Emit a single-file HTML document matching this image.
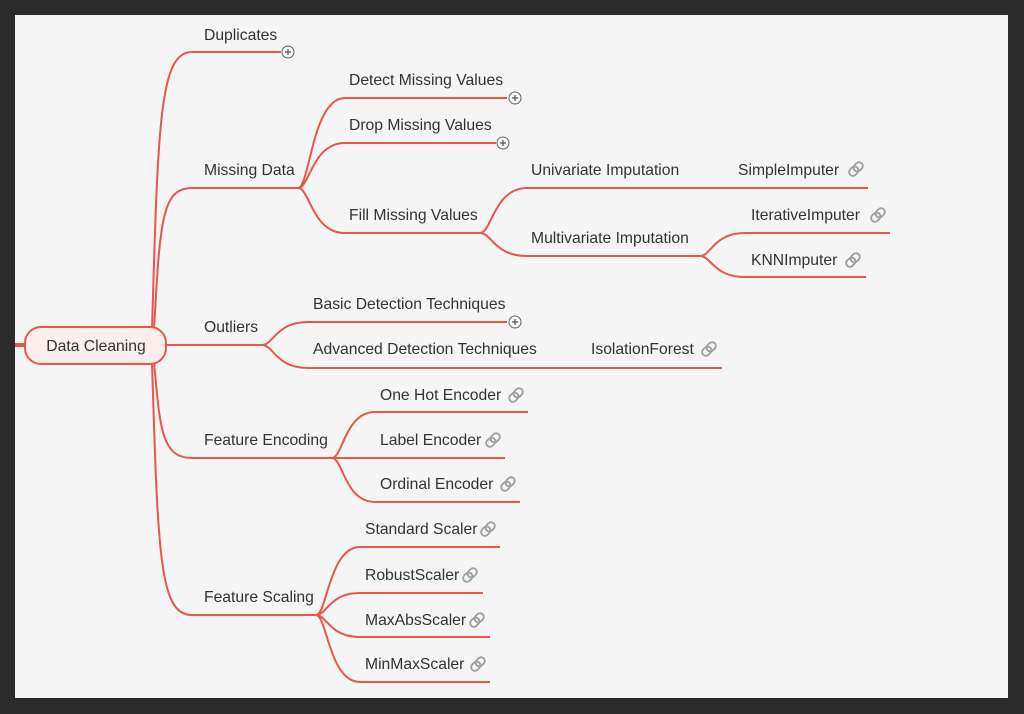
<!DOCTYPE html>
<html><head><meta charset="utf-8"><style>
html,body{margin:0;padding:0;background:#2b2b2b;width:1024px;height:714px;overflow:hidden}
svg{display:block}
text{font-family:"Liberation Sans",sans-serif;font-size:15.7px;fill:#333}
</style></head><body>
<svg id="s" width="1024" height="714" viewBox="0 0 1024 714" xmlns="http://www.w3.org/2000/svg">
<rect x="15" y="15" width="993" height="683" fill="#f5f5f5"/>
<g id="lines" fill="none" stroke="#e8574a" stroke-width="2"></g>
<line x1="15" y1="345" x2="26" y2="345" stroke="#e8574a" stroke-width="4"/>
<rect x="25" y="327" width="141" height="37" rx="16" fill="#fdeeee" stroke="#e8574a" stroke-width="2"/>
<text x="96" y="351" text-anchor="middle">Data Cleaning</text>
<g id="txt"></g>
<g id="icons"></g>
</svg>
<script>
var L=document.getElementById('lines'),T=document.getElementById('txt'),I=document.getElementById('icons');
var NS='http://www.w3.org/2000/svg';
function p(d){var e=document.createElementNS(NS,'path');e.setAttribute('d',d);L.appendChild(e);}
function t(x,y,s){var e=document.createElementNS(NS,'text');e.setAttribute('x',x);e.setAttribute('y',y);e.textContent=s;T.appendChild(e);}
function br(px,py,cx,cy,ex){var d=cx-px;p('M'+px+' '+py+' C'+(px+0.25*d)+' '+py+' '+(px+0.3*d)+' '+cy+' '+cx+' '+cy+' L'+ex+' '+cy);}
function plus(x,y){I.innerHTML+='<circle cx="'+x+'" cy="'+y+'" r="6" fill="#f5f5f5" stroke="#666" stroke-width="1"/><path d="M'+(x-3)+' '+y+'h6M'+x+' '+(y-3)+'v6" stroke="#555" stroke-width="1.2"/>';}
function link(x,y){I.innerHTML+='<g transform="translate('+x+','+y+') rotate(-45) scale(1.25)" fill="none" stroke="#a0a0a0" stroke-width="1.5"><rect x="-6.5" y="-3" width="8" height="6" rx="3"/><rect x="-1.5" y="-3" width="8" height="6" rx="3"/></g>';}
p('M152 330 C158 120 160 52 192 52 L281 52');
p('M154 330 C160 220 162 188 192 188 L298 188');
p('M166 345 L262 345');
p('M154 362 C160 430 162 458 192 458 L332 458');
p('M152 362 C158 560 160 615 192 615 L316 615');
t(204,40,'Duplicates');plus(288,52);
t(204,175,'Missing Data');t(204,332,'Outliers');t(204,445,'Feature Encoding');t(204,602,'Feature Scaling');
br(298,188,345,98,507);br(298,188,345,143,496);br(298,188,345,233,480);
t(349,85,'Detect Missing Values');plus(515,98);
t(349,130,'Drop Missing Values');plus(503,143);
t(349,220,'Fill Missing Values');
br(480,233,527,188,868);br(480,233,527,256,700);
t(531,175,'Univariate Imputation');t(531,243,'Multivariate Imputation');
t(738,175,'SimpleImputer');link(856,169);
br(700,256,745,233,890);br(700,256,745,277,866);
t(751,220,'IterativeImputer');link(878,215);
t(751,265,'KNNImputer');link(853,260);
br(262,345,308,322,507);br(262,345,308,368,722);
t(313,309,'Basic Detection Techniques');plus(515,322);
t(313,354,'Advanced Detection Techniques');
t(591,354,'IsolationForest');link(709,349);
br(332,458,375,412,528);br(332,458,375,458,505);br(332,458,375,502,520);
t(380,400,'One Hot Encoder');link(516,395);
t(380,445,'Label Encoder');link(493,440);
t(380,489,'Ordinal Encoder');link(508,484);
br(316,615,360,547,500);br(316,615,360,593,483);br(316,615,360,637,490);br(316,615,360,682,490);
t(365,534,'Standard Scaler');link(488,529);
t(365,580,'RobustScaler');link(470,575);
t(365,625,'MaxAbsScaler');link(477,620);
t(365,669,'MinMaxScaler');link(478,664);
</script>
</body></html>
